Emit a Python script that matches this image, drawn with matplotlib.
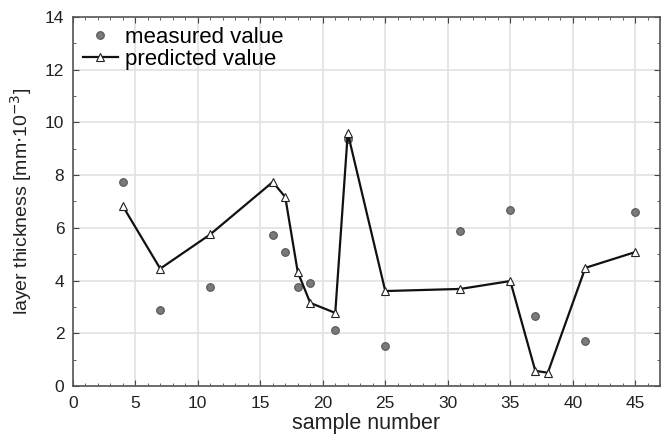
import matplotlib.pyplot as plt
from matplotlib.ticker import MultipleLocator

# sample numbers and values
meas_x = [4, 7, 11, 16, 17, 18, 19, 21, 22, 25, 31, 35, 37, 41, 45]
meas_y = [7.74, 2.88, 3.76, 5.73, 5.08, 3.76, 3.91, 2.12, 9.37, 1.52, 5.88, 6.68, 2.66, 1.71, 6.6]

pred_x = [4, 7, 11, 16, 17, 18, 19, 21, 22, 25, 31, 35, 37, 38, 41, 45]
pred_y = [6.83, 4.45, 5.75, 7.74, 7.17, 4.32, 3.15, 2.77, 9.6, 3.6, 3.68, 3.98, 0.57, 0.5, 4.48, 5.08]

plt.rcParams['font.family'] = ['Liberation Sans', 'DejaVu Sans']

fig = plt.figure(figsize=(6.67, 4.38), dpi=100)
ax = fig.add_axes([0.109, 0.119, 0.881, 0.842])

ax.plot(meas_x, meas_y, linestyle='none', marker='o', markersize=5.5,
        markerfacecolor='#7a7a7a', markeredgecolor='#555555', markeredgewidth=0.8,
        label='measured value', zorder=3)
ax.plot(pred_x, pred_y, color='#111111', lw=1.6, marker='^', markersize=6,
        markerfacecolor='white', markeredgecolor='#222222', markeredgewidth=0.8,
        label='predicted value', zorder=4)

ax.set_xlim(0, 47)
ax.set_ylim(0, 14)
ax.xaxis.set_major_locator(MultipleLocator(5))
ax.xaxis.set_minor_locator(MultipleLocator(1))
ax.yaxis.set_major_locator(MultipleLocator(2))
ax.yaxis.set_minor_locator(MultipleLocator(1))

ax.grid(True, which='major', color='#e2e2e2', lw=1.2)
ax.set_axisbelow(True)
ax.tick_params(which='both', direction='in', top=True, right=True, colors='#444444',
               labelcolor='#222222', labelsize=12.5)
ax.tick_params(which='major', length=4)
ax.tick_params(which='minor', length=2.5)
ax.tick_params(axis='x', which='major', pad=7)
ax.tick_params(axis='y', which='major', pad=6)
for s in ax.spines.values():
    s.set_color('#555555')
    s.set_linewidth(1.2)

ax.set_xlabel('sample number', fontsize=15.5, color='#222222', labelpad=2)
ax.set_ylabel(r'layer thickness [mm$\cdot$10$^{-3}$]', fontsize=14, color='#222222', labelpad=8)

ax.legend(loc='upper left', frameon=False, fontsize=16, handlelength=1.6,
          borderaxespad=0.15, borderpad=0.3, handletextpad=0.3, labelspacing=0.05)

fig.savefig('out.png', dpi=100)
